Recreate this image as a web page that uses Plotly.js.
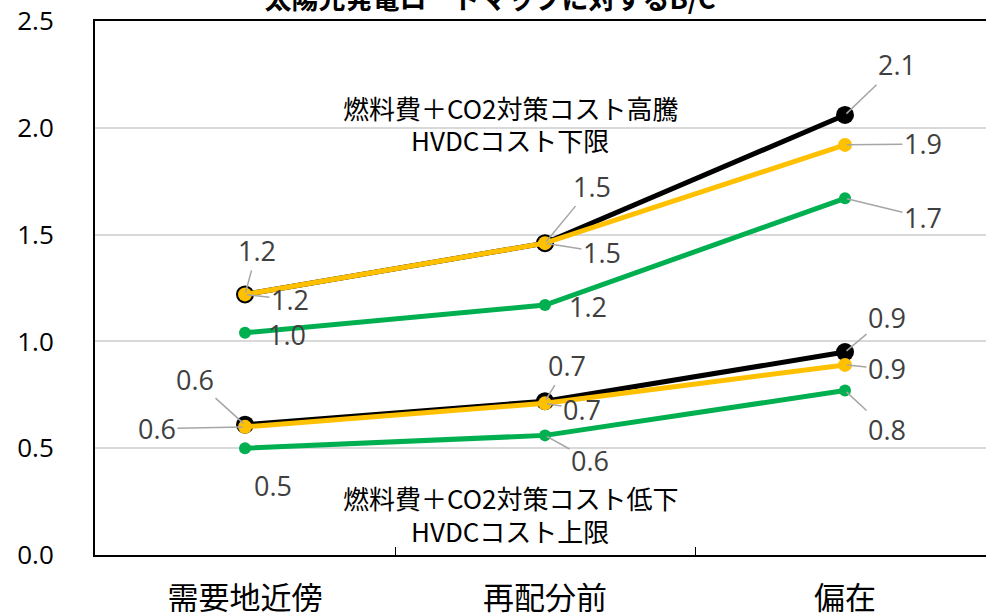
<!DOCTYPE html>
<html>
<head>
<meta charset="utf-8">
<script src="https://cdn.plot.ly/plotly-3.0.1.min.js"></script>
<style>html,body{margin:0;padding:0;background:#fff;}#chart{width:986px;height:613px;}</style>
</head>
<body>
<div id="chart"></div>
<script>
const categories = ['需要地近傍', '再配分前', '偏在'];
const hiBlack  = [1.22, 1.46, 2.06];
const hiYellow = [1.22, 1.46, 1.92];
const hiGreen  = [1.04, 1.17, 1.67];
const loBlack  = [0.61, 0.72, 0.95];
const loYellow = [0.60, 0.71, 0.89];
const loGreen  = [0.50, 0.56, 0.77];
const titleText = '太陽光発電ロードマップに対するB/C';
const noteHigh = ['燃料費＋CO2対策コスト高騰', 'HVDCコスト下限'];
const noteLow = ['燃料費＋CO2対策コスト低下', 'HVDCコスト上限'];

const FONT = 'Open Sans, Noto Sans CJK JP, sans-serif';
const JFONT = 'Noto Sans CJK JP, sans-serif';
const BLACK = '#000000', YELLOW = '#FFC000', GREEN = '#00B050';

function tr(vals, color, msize) {
  return {
    x: categories, y: vals, type: 'scatter', mode: 'lines+markers',
    line: {color: color, width: 5},
    marker: {color: color, size: msize},
    hoverinfo: 'skip', showlegend: false
  };
}
const data = [
  tr(hiBlack, BLACK, 18), tr(hiYellow, YELLOW, 14), tr(hiGreen, GREEN, 12),
  tr(loBlack, BLACK, 18), tr(loYellow, YELLOW, 14), tr(loGreen, GREEN, 12)
];

// label offsets per series/point: [ax, ay, arrow]
const labelOffsets = [
  [hiBlack,  [[12,-44,true],[47,-57,true],[52,-50,true]]],
  [hiYellow, [[45,5,true],[57,9,true],[78,-1,true]]],
  [hiGreen,  [[42,2,false],[43,1,false],[78,19,true]]],
  [loBlack,  [[-50,-45,true],[22,-36,true],[42,-35,true]]],
  [loYellow, [[-88,2,true],[37,6,true],[42,4,true]]],
  [loGreen,  [[28,37,false],[45,25,true],[42,39,true]]]
];
const annotations = [];
labelOffsets.forEach(([vals, offs]) => {
  vals.forEach((v, i) => {
    const [ax, ay, arrow] = offs[i];
    const a = {
      x: categories[i], y: v, xref: 'x', yref: 'y',
      text: v.toFixed(1),
      font: {family: FONT, size: 27, color: '#404040'}
    };
    if (arrow) {
      Object.assign(a, {showarrow: true, ax: ax, ay: ay, arrowhead: 0,
        arrowcolor: '#a6a6a6', arrowwidth: 1.5, standoff: 2});
    } else {
      Object.assign(a, {showarrow: false, xshift: ax, yshift: -ay});
    }
    annotations.push(a);
  });
});
function note(lines, y1, y2) {
  annotations.push({x: 0.466, xref: 'paper', y: y1, yref: 'y', text: lines[0], showarrow: false,
    font: {family: JFONT, size: 26, color: '#000'}});
  annotations.push({x: 0.466, xref: 'paper', y: y2, yref: 'y', text: lines[1], showarrow: false,
    font: {family: JFONT, size: 26, color: '#000'}});
}
note(noteHigh, 2.097, 1.943);
note(noteLow, 0.271, 0.117);

const layout = {
  width: 986, height: 613,
  margin: {l: 95, r: 0, t: 21, b: 58},
  paper_bgcolor: '#fff', plot_bgcolor: '#fff',
  title: {text: titleText, font: {family: JFONT, size: 27, color: '#000', weight: 'bold'},
          xref: 'container', x: 0.497, xanchor: 'center', yref: 'container', y: 1.0, yanchor: 'middle'},
  xaxis: {
    type: 'category', range: [-0.5, 2.47],
    showline: true, linecolor: '#000', linewidth: 2, mirror: true,
    showgrid: false, zeroline: false,
    ticks: 'inside', ticklen: 8, tickwidth: 1, tickcolor: '#000', tickson: 'boundaries',
    tickfont: {family: JFONT, size: 31, color: '#000'},
    ticklabelstandoff: 15
  },
  yaxis: {
    range: [0, 2.5], dtick: 0.5, tickformat: '.1f',
    showline: true, linecolor: '#000', linewidth: 2,
    showgrid: true, gridcolor: '#d9d9d9', gridwidth: 2,
    zeroline: false, ticks: '',
    tickfont: {family: FONT, size: 26, color: '#000'},
    ticklabelstandoff: 34
  },
  annotations: annotations,
  showlegend: false
};
Plotly.newPlot('chart', data, layout, {displayModeBar: false, staticPlot: true});
</script>
</body>
</html>
